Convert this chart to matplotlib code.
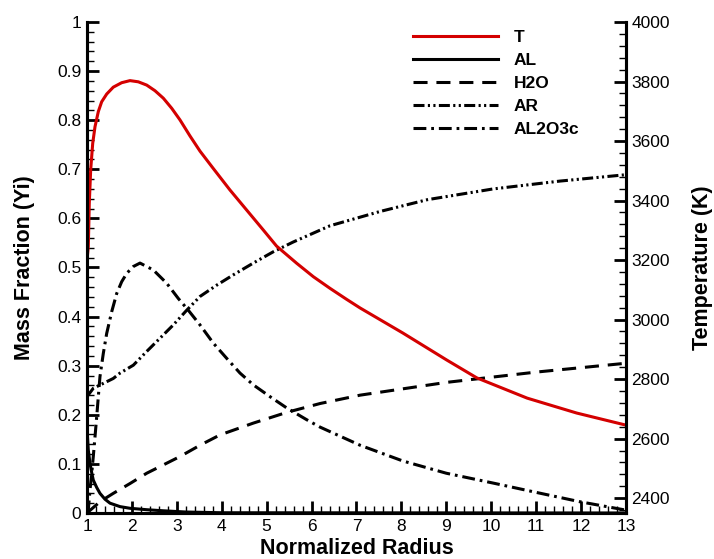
import numpy as np
import matplotlib
matplotlib.use("Agg")
import matplotlib.pyplot as plt
from matplotlib.ticker import MultipleLocator, FuncFormatter

plt.rcParams['font.family'] = ['Liberation Sans', 'DejaVu Sans']

# ===== data =====
# temperature (K), right axis
r_T = [1.0, 1.029, 1.051, 1.082, 1.127, 1.178, 1.252, 1.327, 1.439, 1.585, 1.772,
       1.957, 2.142, 2.329, 2.514, 2.699, 2.886, 3.07, 3.293, 3.516, 3.81, 4.18,
       4.555, 4.925, 5.22, 5.67, 6.04, 6.41, 6.78, 7.08, 8.03, 9.01, 9.68, 10.8,
       11.9, 12.98, 13.0]
T = [3200, 3245, 3391, 3503, 3592, 3648, 3699, 3732, 3758, 3781, 3796,
     3803, 3799, 3788, 3769, 3744, 3710, 3671, 3617, 3566, 3508, 3436,
     3368, 3301, 3247, 3189, 3144, 3105, 3068, 3039, 2955, 2864, 2804, 2736,
     2686, 2646, 2645]

# mass fractions, left axis
r_AL = [1.0, 1.029, 1.067, 1.105, 1.14, 1.216, 1.289, 1.401, 1.512, 1.735, 1.957,
        2.33, 2.7, 3.2, 4.0, 13.0]
AL = [0.172, 0.128, 0.101, 0.082, 0.067, 0.052, 0.040, 0.028, 0.020, 0.013, 0.0096,
      0.0067, 0.0045, 0.002, 0.0005, 0.0]

r_H2O = [1.0, 1.289, 1.585, 1.957, 2.329, 2.70, 3.07, 3.516, 3.96, 4.70, 5.45,
         6.19, 7.08, 9.0, 11.0, 13.0]
H2O = [0.0, 0.023, 0.040, 0.060, 0.081, 0.098, 0.115, 0.138, 0.159, 0.183, 0.205,
       0.223, 0.240, 0.266, 0.287, 0.305]

r_AR = [1.0, 1.14, 1.363, 1.585, 1.735, 2.031, 2.329, 2.625, 2.921, 3.22, 3.516,
        3.887, 4.257, 4.702, 5.147, 5.593, 6.41, 7.52, 8.57, 10.04, 11.53, 13.0]
AR = [0.237, 0.254, 0.264, 0.274, 0.285, 0.301, 0.329, 0.356, 0.383, 0.413, 0.441,
      0.464, 0.485, 0.509, 0.532, 0.552, 0.585, 0.614, 0.638, 0.660, 0.676, 0.689]

r_AL2O3 = [1.0, 1.029, 1.067, 1.105, 1.14, 1.178, 1.216, 1.252, 1.289, 1.363, 1.439,
           1.55, 1.661, 1.772, 1.884, 2.031, 2.18, 2.476, 2.774, 3.032, 3.255, 3.516,
           3.812, 4.11, 4.406, 4.702, 5.074, 5.446, 5.891, 6.187, 7.08, 8.03, 9.0,
           10.04, 11.0, 11.97, 12.93, 13.0]
AL2O3 = [0.0, 0.006, 0.047, 0.081, 0.115, 0.155, 0.196, 0.237, 0.278, 0.325, 0.366,
         0.410, 0.447, 0.471, 0.488, 0.502, 0.509, 0.495, 0.468, 0.437, 0.413, 0.383,
         0.346, 0.315, 0.285, 0.261, 0.237, 0.214, 0.190, 0.175, 0.138, 0.106, 0.081,
         0.061, 0.042, 0.023, 0.007, 0.006]

# ===== plot =====
fig = plt.figure(figsize=(7.14, 5.59), dpi=100)
ax = fig.add_axes([87/714, 46/559, 539/714, 491/559])
ax2 = ax.twinx()

lw = 2.2
h_al, = ax.plot(r_AL, AL, color='black', lw=lw, label='AL')
h_h2o, = ax.plot(r_H2O, H2O, color='black', lw=lw, dashes=(4.6, 2.9), label='H2O')
h_ar, = ax.plot(r_AR, AR, color='black', lw=lw, dashes=(3.6, 1.1, 0.7, 1.1, 0.7, 1.1), label='AR')
h_al2o3, = ax.plot(r_AL2O3, AL2O3, color='black', lw=lw, dashes=(4.2, 1.6, 0.9, 1.6), label='AL2O3c')
h_t, = ax2.plot(r_T, T, color='#d40000', lw=lw, label='T')

ax.set_xlim(1, 13)
ax.set_ylim(0, 1)
ax2.set_ylim(2350, 4000)

ax.xaxis.set_major_locator(MultipleLocator(1))
ax.xaxis.set_minor_locator(MultipleLocator(0.2))
ax.yaxis.set_major_locator(MultipleLocator(0.1))
ax.yaxis.set_minor_locator(MultipleLocator(0.02))
ax.yaxis.set_major_formatter(FuncFormatter(lambda v, p: '%g' % round(v, 2)))
ax2.yaxis.set_major_locator(MultipleLocator(200))
ax2.yaxis.set_minor_locator(MultipleLocator(40))

for a in (ax, ax2):
    a.spines['top'].set_visible(False)
    for s in a.spines.values():
        s.set_linewidth(2.2)
    a.tick_params(which='major', direction='in', length=8.5, width=2.0, labelsize=12.5, pad=4)
    a.tick_params(which='minor', direction='in', length=5, width=1.0)
ax.tick_params(right=False, which='both')
ax2.tick_params(left=False, which='both')

ax.set_xlabel('Normalized Radius', fontsize=15.5, fontweight='bold', labelpad=3)
ax.set_ylabel('Mass Fraction (Yi)', fontsize=15.5, fontweight='bold', labelpad=16)
ax2.set_ylabel('Temperature (K)', fontsize=15.5, fontweight='bold', rotation=90, labelpad=16)

handles = [h_t, h_al, h_h2o, h_ar, h_al2o3]
leg = ax.legend(handles=handles, loc='upper left', bbox_to_anchor=(404/714, 1 - 21/559),
                bbox_transform=fig.transFigure, frameon=False, borderpad=0,
                handlelength=4.9, handletextpad=0.92, labelspacing=0.45,
                prop={'weight': 'bold', 'size': 12.5})

fig.savefig('out.png', dpi=100)
